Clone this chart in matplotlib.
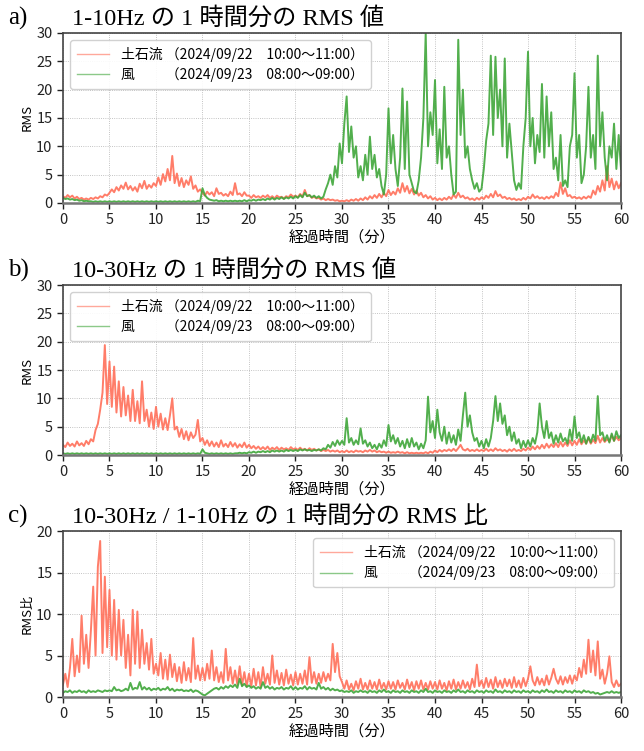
import numpy as np
import matplotlib
matplotlib.use("Agg")
import matplotlib.pyplot as plt

plt.rcParams['font.family'] = ['Noto Sans CJK JP', 'DejaVu Sans']

# 0.25 分刻みで読み取った値 (0〜60 分)
rms_low_debris = [
    1.2, 0.9, 1.4, 1.0, 1.3, 0.8, 1.1, 0.7, 0.9, 0.6, 0.8, 0.6, 0.9, 0.7, 1.0, 0.8, 1.2, 1.0, 1.5, 1.3,
    1.8, 2.4, 1.9, 2.8, 2.2, 3.1, 2.5, 3.6, 2.4, 3.0, 2.2, 2.8, 2.0, 3.4, 2.6, 3.9, 2.5, 3.2, 2.7, 3.5,
    3.0, 4.5, 3.2, 5.1, 3.8, 6.0, 4.0, 8.3, 3.5, 5.2, 3.0, 4.4, 2.8, 4.0, 3.2, 4.7, 2.5, 3.1, 2.0, 2.4,
    1.8, 1.3, 2.0, 1.5, 1.9, 1.2, 2.6, 1.6, 1.8, 1.3, 1.6, 1.2, 2.0, 1.4, 3.5, 1.5, 1.7, 1.2, 1.9, 1.3,
    1.3, 0.9, 1.4, 1.0, 1.2, 0.9, 1.3, 1.0, 1.4, 0.9, 1.2, 0.8, 1.3, 1.0, 1.1, 0.8, 1.2, 1.0, 1.5, 1.1,
    1.3, 1.0, 1.6, 1.1, 2.3, 1.2, 1.4, 0.9, 1.1, 0.8, 0.9, 0.6, 0.8, 0.5, 0.7, 0.5, 0.6, 0.4, 0.5, 0.3,
    0.4, 0.3, 0.5, 0.3, 0.6, 0.4, 0.7, 0.4, 0.8, 0.5, 1.0, 0.6, 1.2, 0.8, 1.4, 0.9, 1.6, 1.0, 1.8, 1.2,
    2.3, 1.4, 2.0, 1.5, 2.6, 1.8, 3.5, 2.0, 3.0, 1.7, 2.5, 1.5, 2.2, 1.3, 1.8, 1.0, 1.4, 0.8, 1.2, 0.6,
    0.9, 0.5, 0.8, 0.5, 0.9, 0.6, 1.1, 0.7, 1.5, 0.9, 1.8, 1.0, 1.3, 0.8, 1.0, 0.6, 0.8, 0.5, 0.9, 0.6,
    1.0, 0.7, 1.3, 0.9, 1.6, 1.0, 2.1, 1.2, 1.5, 0.9, 1.1, 0.7, 0.9, 0.6, 0.8, 0.5, 0.7, 0.5, 0.9, 0.6,
    1.1, 0.8, 1.5, 0.9, 1.2, 0.8, 1.0, 0.7, 1.1, 0.8, 1.2, 0.9, 1.8, 1.2, 3.6, 1.6, 2.6, 1.2, 1.4, 0.9,
    1.1, 0.8, 1.0, 0.7, 1.1, 0.8, 1.2, 0.9, 2.2, 1.5, 3.0, 2.0, 4.0, 2.2, 6.5, 2.8, 4.3, 2.4, 3.8, 2.6,
    3.5,
]
rms_low_wind = [
    0.9, 0.7, 0.8, 0.6, 0.7, 0.5, 0.6, 0.4, 0.5, 0.3, 0.4, 0.3, 0.3, 0.2, 0.3, 0.2, 0.3, 0.2, 0.3, 0.2,
    0.3, 0.2, 0.3, 0.2, 0.3, 0.2, 0.3, 0.2, 0.3, 0.2, 0.3, 0.2, 0.3, 0.2, 0.3, 0.2, 0.3, 0.2, 0.3, 0.2,
    0.3, 0.2, 0.3, 0.2, 0.3, 0.2, 0.3, 0.2, 0.3, 0.2, 0.3, 0.2, 0.3, 0.2, 0.3, 0.2, 0.3, 0.2, 0.4, 0.3,
    2.6, 1.4, 0.9, 0.6, 0.5, 0.4, 0.5, 0.3, 0.4, 0.3, 0.4, 0.3, 0.4, 0.3, 0.4, 0.3, 0.4, 0.3, 0.5, 0.3,
    0.5, 0.4, 0.6, 0.4, 0.6, 0.5, 0.7, 0.5, 0.8, 0.6, 0.9, 0.6, 0.9, 0.7, 1.0, 0.7, 1.0, 0.8, 1.1, 0.8,
    1.2, 0.9, 1.4, 1.0, 1.8, 1.2, 1.4, 1.0, 1.3, 0.9, 1.2, 0.8, 1.1, 2.4, 3.5, 5.0, 3.2, 6.5, 4.5, 10.5,
    7.0, 14.0, 18.8, 9.0, 13.5, 8.0, 10.0, 4.5, 6.5, 4.0, 8.5, 5.0, 11.7, 6.0, 8.5, 4.5, 6.0, 3.0, 1.5, 5.0,
    16.7, 7.0, 12.0, 6.0, 3.0, 8.0, 20.2, 6.0, 17.9, 5.0, 3.5, 2.0, 1.7, 4.0, 8.0, 15.0, 30.0, 10.0, 16.0, 12.0,
    21.7, 7.0, 13.0, 6.0, 20.5, 8.0, 10.0, 5.0, 1.5, 2.0, 28.8, 12.0, 20.0, 8.0, 10.0, 6.0, 4.0, 2.5, 3.5, 2.0,
    2.5, 6.0, 11.0, 14.0, 26.0, 12.0, 25.8, 15.0, 20.0, 10.0, 25.5, 8.0, 14.0, 9.0, 4.0, 2.3, 3.5, 2.5, 10.0, 15.0,
    26.7, 10.0, 15.0, 7.0, 12.0, 9.0, 21.0, 8.0, 18.8, 10.0, 16.0, 6.0, 8.0, 4.0, 12.0, 3.0, 4.0, 2.8, 10.0, 12.0,
    22.9, 8.0, 12.0, 3.5, 5.0, 10.0, 20.5, 8.0, 12.0, 6.0, 26.0, 10.0, 16.0, 8.0, 4.0, 10.0, 8.0, 14.0, 6.0, 12.0,
    6.0,
]
rms_high_debris = [
    1.8, 1.4, 2.2, 1.6, 2.0, 1.5, 2.4, 1.7, 2.1, 1.6, 2.5, 1.9, 2.8, 2.4, 4.4, 5.5, 8.0, 11.0, 19.4, 9.0,
    16.5, 8.5, 15.6, 7.5, 13.0, 6.8, 12.0, 7.0, 10.5, 6.0, 11.5, 6.0, 9.5, 5.6, 13.0, 6.0, 8.0, 5.0, 7.5, 4.6,
    8.5, 5.0, 7.3, 4.5, 6.5, 4.4, 7.0, 10.0, 4.5, 5.0, 3.2, 4.6, 2.8, 4.2, 2.6, 4.0, 3.0, 3.6, 6.2, 2.4,
    3.0, 1.8, 2.6, 1.6, 2.4, 1.5, 2.2, 1.4, 2.6, 1.5, 2.0, 1.4, 2.3, 1.5, 2.1, 1.3, 1.9, 1.4, 2.2, 1.3,
    1.8, 1.2, 1.6, 1.1, 1.5, 1.0, 1.4, 1.0, 1.5, 0.9, 1.3, 1.0, 1.4, 0.9, 1.3, 1.0, 1.2, 0.9, 1.4, 1.0,
    1.2, 0.9, 1.3, 0.9, 1.1, 0.8, 1.2, 0.9, 1.1, 0.8, 1.0, 0.7, 0.9, 0.7, 0.9, 0.6, 0.8, 0.6, 0.8, 0.5,
    0.7, 0.5, 0.8, 0.5, 0.7, 0.5, 0.8, 0.6, 0.7, 0.5, 0.8, 0.6, 0.9, 0.6, 0.8, 0.5, 0.7, 0.5, 0.6, 0.4,
    0.6, 0.4, 0.5, 0.4, 0.6, 0.4, 0.5, 0.3, 0.5, 0.3, 0.4, 0.3, 0.4, 0.3, 0.4, 0.3, 0.5, 0.3, 0.6, 0.4,
    0.8, 0.5, 0.9, 0.6, 0.9, 0.7, 1.0, 0.7, 1.1, 0.7, 1.2, 1.8, 1.0, 0.8, 1.1, 0.7, 0.9, 0.7, 1.0, 0.7,
    0.9, 0.7, 1.1, 0.7, 1.0, 0.7, 1.2, 0.8, 1.0, 0.7, 0.9, 0.6, 1.0, 0.7, 1.1, 0.7, 0.9, 0.7, 1.1, 0.8,
    1.3, 0.9, 1.5, 1.0, 1.6, 1.1, 1.8, 1.2, 2.0, 1.3, 1.9, 1.4, 2.1, 1.4, 2.3, 1.5, 2.2, 1.6, 2.6, 1.7,
    2.5, 1.8, 2.8, 1.9, 2.6, 2.0, 3.0, 2.0, 2.7, 2.1, 3.4, 2.2, 3.0, 2.3, 2.8, 2.4, 3.5, 2.5, 3.2, 2.6,
    3.0,
]
rms_high_wind = [
    0.3, 0.2, 0.3, 0.2, 0.3, 0.2, 0.3, 0.2, 0.3, 0.2, 0.3, 0.2, 0.3, 0.2, 0.3, 0.2, 0.3, 0.2, 0.3, 0.2,
    0.3, 0.2, 0.3, 0.2, 0.3, 0.2, 0.3, 0.2, 0.3, 0.2, 0.3, 0.2, 0.3, 0.2, 0.3, 0.2, 0.3, 0.2, 0.3, 0.2,
    0.3, 0.2, 0.3, 0.2, 0.3, 0.2, 0.3, 0.2, 0.3, 0.2, 0.3, 0.2, 0.3, 0.2, 0.3, 0.2, 0.3, 0.2, 0.3, 0.2,
    1.0, 0.4, 0.3, 0.2, 0.3, 0.2, 0.3, 0.2, 0.3, 0.2, 0.3, 0.2, 0.3, 0.2, 0.3, 0.3, 0.4, 0.3, 0.4, 0.3,
    0.5, 0.4, 0.6, 0.4, 0.6, 0.5, 0.7, 0.5, 0.7, 0.5, 0.8, 0.6, 0.8, 0.6, 0.8, 0.6, 0.9, 0.7, 0.9, 0.7,
    0.9, 0.7, 1.0, 0.8, 1.0, 0.8, 0.9, 0.7, 0.9, 0.8, 1.0, 0.8, 1.2, 1.0, 1.8, 1.3, 2.3, 1.6, 2.6, 1.8,
    2.5, 1.8, 6.5, 2.2, 3.0, 1.8, 2.6, 1.9, 4.7, 2.0, 2.6, 1.5, 2.2, 1.2, 1.8, 1.0, 2.0, 1.3, 2.6, 1.6,
    5.3, 2.4, 3.5, 2.0, 3.0, 1.5, 2.5, 1.2, 2.8, 1.4, 3.0, 1.5, 2.2, 1.0, 2.0, 1.2, 2.6, 10.3, 4.0, 6.0,
    3.0, 8.0, 4.0, 2.5, 5.0, 2.0, 4.0, 2.2, 3.5, 1.8, 4.5, 2.5, 7.0, 11.0, 5.0, 7.0, 4.0, 2.5, 3.0, 1.5,
    2.5, 1.2, 2.8, 1.5, 3.0, 6.0, 10.4, 6.0, 9.1, 5.5, 7.0, 3.5, 5.0, 2.5, 4.0, 2.0, 2.8, 1.2, 2.5, 1.4,
    2.6, 1.5, 3.0, 2.0, 4.0, 9.1, 5.0, 3.0, 6.0, 3.0, 4.0, 2.0, 3.5, 2.2, 3.8, 2.4, 3.0, 2.0, 4.5, 2.5,
    6.8, 3.0, 4.0, 2.2, 3.5, 2.0, 3.2, 2.2, 3.6, 2.5, 10.4, 3.5, 4.0, 2.5, 3.5, 2.2, 3.8, 2.5, 4.2, 3.0,
    3.5,
]
ratio_debris = [
    1.5, 2.8, 1.2, 3.5, 7.0, 2.5, 5.0, 3.0, 9.8, 4.0, 7.5, 3.5, 8.0, 13.3, 5.0, 15.7, 18.8, 5.3, 14.5, 6.0,
    12.9, 5.0, 11.7, 4.5, 10.5, 5.0, 9.3, 3.5, 7.5, 2.6, 10.5, 4.0, 10.3, 3.5, 8.1, 4.0, 6.5, 3.3, 7.0, 2.8,
    4.0, 2.6, 5.3, 2.2, 4.5, 2.1, 5.1, 2.4, 4.0, 1.9, 3.6, 1.7, 4.2, 2.0, 3.5, 1.8, 7.1, 2.2, 3.8, 2.0,
    3.5, 2.0, 4.0, 2.2, 5.6, 2.0, 3.6, 1.8, 3.0, 1.7, 5.8, 2.0, 3.6, 1.6, 3.2, 1.5, 3.7, 1.4, 3.0, 1.3,
    2.8, 1.3, 3.4, 1.4, 3.0, 1.2, 3.6, 1.6, 2.8, 1.5, 5.0, 1.7, 3.2, 1.5, 2.9, 1.4, 3.3, 1.6, 2.7, 1.4,
    3.0, 1.5, 2.8, 1.6, 3.2, 1.5, 4.8, 1.7, 3.0, 1.6, 2.8, 1.7, 3.0, 1.9, 2.8, 2.0, 6.4, 3.0, 5.3, 2.5,
    1.8, 1.0, 2.0, 0.9, 1.6, 0.8, 1.9, 1.0, 2.2, 0.9, 1.7, 0.9, 2.0, 1.0, 1.8, 0.9, 2.1, 1.0, 1.7, 0.9,
    1.9, 1.0, 1.8, 0.9, 2.0, 1.1, 1.7, 0.9, 2.1, 1.0, 1.8, 0.8, 1.9, 1.0, 2.0, 0.9, 1.7, 0.9, 1.9, 1.0,
    1.8, 0.9, 2.0, 1.0, 1.7, 0.8, 1.9, 1.0, 2.1, 0.9, 1.8, 1.0, 2.0, 1.1, 1.8, 0.9, 2.2, 1.2, 3.9, 1.3,
    2.0, 1.1, 2.3, 1.2, 2.1, 1.0, 2.4, 1.2, 2.0, 1.1, 2.2, 1.3, 2.1, 1.1, 2.4, 1.2, 2.0, 1.1, 2.3, 1.3,
    2.2, 3.7, 2.0, 1.4, 2.4, 1.5, 2.2, 1.4, 2.6, 1.5, 2.3, 3.4, 2.2, 1.6, 2.5, 1.5, 2.4, 1.7, 2.6, 1.6,
    2.6, 2.0, 3.5, 2.4, 4.5, 2.8, 6.9, 3.0, 5.6, 2.6, 6.7, 2.2, 3.3, 1.6, 2.8, 4.9, 1.8, 1.2, 2.0, 1.3,
    1.6,
]
ratio_wind = [
    0.5, 0.7, 0.6, 0.8, 0.5, 0.7, 0.6, 0.8, 0.6, 0.7, 0.5, 0.8, 0.6, 0.7, 0.6, 0.8, 0.7, 0.6, 0.8, 0.7,
    0.8, 0.7, 1.2, 0.8, 0.9, 0.7, 0.8, 1.0, 0.8, 1.7, 0.9, 1.1, 1.0, 1.8, 0.9, 1.2, 0.9, 1.1, 0.8, 1.0,
    0.9, 1.1, 0.8, 1.0, 0.9, 1.2, 0.8, 1.0, 0.7, 0.9, 0.8, 0.9, 0.7, 0.8, 0.7, 0.9, 0.6, 0.8, 0.7, 0.5,
    0.3, 0.2, 0.4, 0.6, 0.8, 1.0, 1.1, 0.9, 1.2, 1.0, 1.3, 1.1, 1.4, 1.2, 1.5, 1.1, 2.2, 1.3, 1.6, 1.2,
    1.4, 1.1, 1.3, 1.0, 1.2, 1.0, 1.8, 1.1, 1.3, 1.0, 1.2, 0.9, 1.1, 1.0, 1.2, 0.9, 1.1, 1.0, 1.3, 0.9,
    1.2, 0.9, 1.1, 1.0, 1.3, 0.9, 1.2, 1.0, 1.1, 0.9, 1.7, 1.0, 1.2, 0.9, 1.1, 0.8, 1.0, 0.8, 0.9, 0.7,
    0.8, 0.6, 0.7, 0.6, 0.8, 0.5, 0.7, 0.6, 0.8, 0.6, 0.7, 0.5, 0.8, 0.6, 0.7, 0.5, 0.8, 0.6, 0.9, 0.6,
    0.7, 0.5, 0.8, 0.6, 0.7, 0.5, 0.8, 0.6, 0.7, 0.5, 0.8, 0.6, 0.7, 0.5, 0.8, 0.6, 1.0, 0.6, 0.7, 0.5,
    0.8, 0.6, 0.7, 0.5, 0.8, 0.6, 0.7, 0.5, 0.8, 0.6, 0.9, 0.6, 0.7, 0.5, 0.8, 0.6, 0.7, 0.5, 0.8, 0.6,
    0.7, 0.5, 0.8, 0.6, 0.7, 0.5, 0.9, 0.6, 0.7, 0.5, 0.8, 0.6, 0.7, 0.5, 0.8, 0.6, 0.7, 0.5, 0.8, 0.6,
    0.7, 0.5, 0.8, 0.6, 0.7, 0.5, 0.8, 0.6, 0.9, 0.6, 0.7, 0.5, 0.8, 0.6, 0.7, 0.5, 0.8, 0.6, 0.7, 0.5,
    0.8, 0.6, 0.7, 0.5, 0.8, 0.6, 0.7, 0.5, 0.6, 0.4, 0.5, 0.3, 0.4, 0.5, 0.6, 0.5, 0.7, 0.5, 0.6, 0.5,
    0.6,
]

label_debris = "土石流 （2024/09/22　10:00～11:00）"
label_wind = "風　　 （2024/09/23　08:00～09:00）"
panel_tags = ["a)", "b)", "c)"]
panel_titles = ["1-10Hz の 1 時間分の RMS 値",
                "10-30Hz の 1 時間分の RMS 値",
                "10-30Hz / 1-10Hz の 1 時間分の RMS 比"]
ylabels = ["RMS", "RMS", "RMS比"]
ylims = [30, 30, 20]
legend_locs = ["upper left", "upper left", "upper right"]

c_debris = "#ff6f59"
c_wind = "#3fa63a"

series = [(rms_low_debris, rms_low_wind),
          (rms_high_debris, rms_high_wind),
          (ratio_debris, ratio_wind)]

fig = plt.figure(figsize=(6.44, 7.51), dpi=100)
boxes = [(0.0978, 0.7297, 0.8665, 0.2264),
         (0.0978, 0.3941, 0.8665, 0.2264),
         (0.0978, 0.0719, 0.8665, 0.2210)]

for i, (deb, wnd) in enumerate(series):
    ax = fig.add_axes(boxes[i])
    t_d = np.linspace(0, 60, len(deb))
    t_w = np.linspace(0, 60, len(wnd))
    ax.plot(t_d, deb, color=c_debris, lw=1.4, alpha=0.9, label=label_debris)
    ax.plot(t_w, wnd, color=c_wind, lw=1.4, alpha=0.9, label=label_wind)
    ax.set_xlim(0, 60)
    ax.set_ylim(0, ylims[i])
    ax.set_xticks(np.arange(0, 61, 5))
    ax.set_yticks(np.arange(0, ylims[i] + 1, 5))
    ax.grid(True, ls=':', lw=0.6, color='#b0b0b0')
    ax.tick_params(labelsize=10.5, length=4, width=1, colors='#222222')
    for s in ax.spines.values():
        s.set_color('#444444')
        s.set_linewidth(1.2)
    ax.spines['bottom'].set_color('#777777')
    ax.spines['bottom'].set_linewidth(1.8)
    ax.set_ylabel(ylabels[i], fontsize=9.5, labelpad=2)
    ax.set_xlabel("経過時間（分）", fontsize=11, labelpad=1)
    leg = ax.legend(loc=legend_locs[i], fontsize=10, handlelength=2.3,
                    handletextpad=0.9, borderpad=0.5, labelspacing=0.4,
                    framealpha=0.9, edgecolor='#cccccc')
    for ln in leg.get_lines():
        ln.set_linewidth(1.0)
        ln.set_alpha(0.6)
    x0, y0, w, h = boxes[i]
    ytop = y0 + h + 8 / 751
    fig.text(0.012, ytop, panel_tags[i], fontsize=18, va='baseline',
             family=['Liberation Serif', 'Noto Sans CJK JP'])
    fig.text(72 / 644, ytop, panel_titles[i], fontsize=17.5, va='baseline',
             family=['Liberation Serif', 'Noto Sans CJK JP'])

fig.savefig("out.png", dpi=100)
